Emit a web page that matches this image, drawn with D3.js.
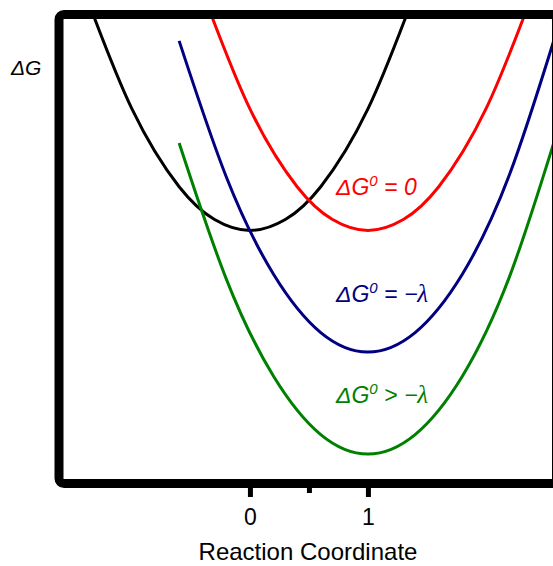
<!doctype html>
<html lang="en">
<head>
  <meta charset="utf-8">
  <script src="https://cdn.jsdelivr.net/npm/d3@7"></script>
  <title>Marcus parabolas</title>
  <style>
    body { margin: 0; background: #fff; }
    text { font-family: "Liberation Sans", Arial, sans-serif; }
  </style>
</head>
<body>
  <svg id="chart" width="553" height="566"></svg>
  <script>
    // points (reaction coordinate, free energy in units of lambda)
    var reactantX = [-1.4, -1.0, -0.6, -0.3, 0, 0.3, 0.6, 1.0, 1.4];
    var reactantG = [1.96, 1.0, 0.36, 0.09, 0, 0.09, 0.36, 1.0, 1.96];
    var zeroX = [-0.4, 0, 0.4, 0.7, 1.0, 1.3, 1.6, 2.0, 2.4];
    var zeroG = [1.96, 1.0, 0.36, 0.09, 0, 0.09, 0.36, 1.0, 1.96];
    var optimalX = [-0.6, -0.2, 0.2, 0.6, 1.0, 1.4, 1.8, 2.2, 2.6];
    var optimalG = [1.56, 0.44, -0.36, -0.84, -1.0, -0.84, -0.36, 0.46, 1.64];
    var invertedX = [-0.6, -0.2, 0.2, 0.6, 1.0, 1.4, 1.8, 2.2, 2.6];
    var invertedG = [0.72, -0.4, -1.2, -1.68, -1.84, -1.68, -1.2, -0.38, 0.8];

    var tickValues = [0, 0.5, 1];
    var tickLabels = ["0", "", "1"];

    function draw() {
      var svg = d3.select("#chart");

      // inner plot box (inside the thick frame)
      var boxL = 63.5, boxR = 552, boxT = 19, boxB = 479;
      var x = d3.scaleLinear().domain([-1.58, 2.56]).range([boxL, boxR]);
      var y = d3.scaleLinear().domain([-2.045, 1.74]).range([boxB, boxT]);

      svg.append("rect").attr("width", 553).attr("height", 566).attr("fill", "#fff");

      svg.append("clipPath").attr("id", "box")
        .append("rect")
          .attr("x", boxL).attr("y", boxT)
          .attr("width", boxR - boxL).attr("height", boxB - boxT);

      var line = d3.line()
        .x(function(d) { return x(d[0]); })
        .y(function(d) { return y(d[1]); })
        .curve(d3.curveNatural);

      var curves = [
        { xs: reactantX, gs: reactantG, color: "#000000" },
        { xs: zeroX, gs: zeroG, color: "#ff0000" },
        { xs: optimalX, gs: optimalG, color: "#000080" },
        { xs: invertedX, gs: invertedG, color: "#008000" }
      ];

      svg.append("g")
          .attr("clip-path", "url(#box)")
        .selectAll("path")
        .data(curves)
        .enter()
        .append("path")
          .attr("d", function(c) { return line(d3.zip(c.xs, c.gs)); })
          .attr("fill", "none")
          .attr("stroke", function(c) { return c.color; })
          .attr("stroke-width", 3);

      // thick frame, right side runs off the page
      svg.append("rect")
        .attr("x", 59).attr("y", 14.5)
        .attr("width", 497.5).attr("height", 469)
        .attr("rx", 5)
        .attr("fill", "none")
        .attr("stroke", "#000")
        .attr("stroke-width", 9);

      // bottom axis: only the stubby ticks and labels
      var axis = svg.append("g")
        .attr("transform", "translate(0,487)")
        .call(d3.axisBottom(x)
          .tickValues(tickValues)
          .tickSize(10)
          .tickFormat(function(d, i) { return tickLabels[i]; }));
      axis.select(".domain").remove();
      axis.selectAll(".tick line")
        .attr("stroke", "#000")
        .attr("stroke-width", 5)
        .attr("y2", function(d) { return d === 0.5 ? 6 : 10; });
      axis.selectAll(".tick text")
        .attr("y", 38)
        .attr("dy", null)
        .attr("fill", "#000")
        .style("font-size", "23px")
        .style("font-family", "Liberation Sans, Arial, sans-serif");

      svg.append("text")
        .attr("x", 308)
        .attr("y", 560)
        .style("text-anchor", "middle")
        .style("font-size", "24px")
        .text("Reaction Coordinate");

      svg.append("text")
        .attr("x", 11)
        .attr("y", 75)
        .style("font-size", "21px")
        .style("font-style", "italic")
        .text("\u0394G");

      // curve labels
      var labels = [
        { y: 195, rel: " = 0", color: "#ff0000", lam: false },
        { y: 302, rel: " = \u2212", color: "#000080", lam: true },
        { y: 403, rel: " > \u2212", color: "#008000", lam: true }
      ];
      labels.forEach(function(l) {
        var t = svg.append("text")
          .attr("x", 336)
          .attr("y", l.y)
          .attr("fill", l.color)
          .style("font-size", "23px")
          .style("font-style", "italic");
        t.append("tspan").text("\u0394G");
        t.append("tspan").attr("dy", -9).style("font-size", "15px").text("0");
        t.append("tspan").attr("dy", 9).text(l.rel);
        if (l.lam) {
          t.append("tspan")
            .style("font-family", "Liberation Serif, serif")
            .style("font-size", "25px")
            .text("\u03bb");
        }
      });
    }
    draw();
  </script>
</body>
</html>
